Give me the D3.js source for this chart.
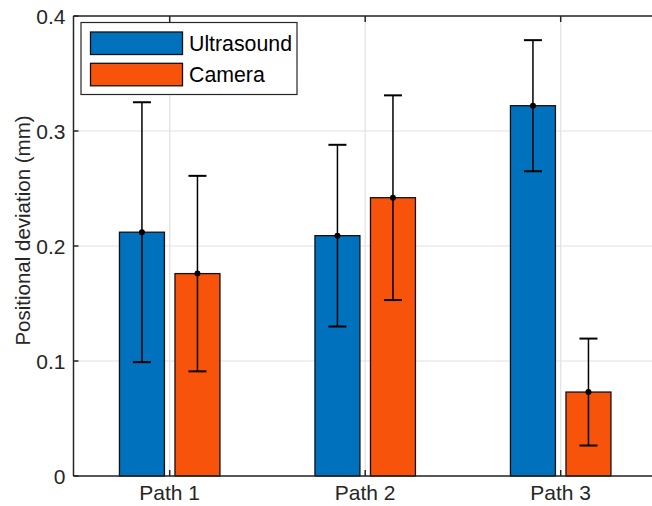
<!DOCTYPE html>
<html><head><meta charset="utf-8">
<script src="https://cdn.jsdelivr.net/npm/d3@7"></script>
<style>
body{margin:0;background:#fff;}
text{font-family:"Liberation Sans",Arial,Helvetica,sans-serif;}
</style></head>
<body><svg id="c" width="652" height="506"></svg>
<script>
const categories = ["Path 1", "Path 2", "Path 3"];
const seriesNames = ["Ultrasound", "Camera"];
const ultrasound = [0.212, 0.209, 0.322];
const ultrasoundErr = [0.113, 0.079, 0.057];
const camera = [0.176, 0.242, 0.073];
const cameraErr = [0.085, 0.089, 0.0465];
const yTicks = [0, 0.1, 0.2, 0.3, 0.4];
const yTickLabels = ["0", "0.1", "0.2", "0.3", "0.4"];
const colors = ["#0072BD", "#F8530B"];

const svg = d3.select("#c");
const L = 73.5, R = 656.3, T = 16, B = 476;
const x = d3.scalePoint().domain(categories).range([169.7, 560.7]);
const xs = d3.scaleBand().domain(seriesNames).range([-50.25, 50.25]).paddingInner(0.19);
const y = d3.scaleLinear().domain([0, 0.4]).range([B, T]);
const axisCol = "#262626";

// grid
const g = svg.append("g");
g.selectAll(".gx").data(categories).enter().append("line")
  .attr("x1", d => x(d)).attr("x2", d => x(d)).attr("y1", T).attr("y2", B)
  .attr("stroke", "#e2e2e2").attr("stroke-width", 1.2);
g.selectAll(".gy").data(yTicks).enter().append("line")
  .attr("x1", L).attr("x2", R).attr("y1", d => y(d)).attr("y2", d => y(d))
  .attr("stroke", "#e2e2e2").attr("stroke-width", 1.2);

// bars
const data = [];
categories.forEach((c, i) => {
  data.push({c, s: seriesNames[0], v: ultrasound[i], e: ultrasoundErr[i], col: colors[0]});
  data.push({c, s: seriesNames[1], v: camera[i], e: cameraErr[i], col: colors[1]});
});
svg.selectAll(".bar").data(data).enter().append("rect")
  .attr("x", d => x(d.c) + xs(d.s)).attr("width", xs.bandwidth())
  .attr("y", d => y(d.v)).attr("height", d => y(0) - y(d.v))
  .attr("fill", d => d.col).attr("stroke", "#111").attr("stroke-width", 1.3);

// error bars
const cx = d => x(d.c) + xs(d.s) + xs.bandwidth() / 2;
const eb = svg.append("g").attr("stroke", "#000").attr("stroke-width", 1.5);
eb.selectAll(".v").data(data).enter().append("line")
  .attr("x1", cx).attr("x2", cx).attr("y1", d => y(d.v + d.e)).attr("y2", d => y(d.v - d.e));
eb.selectAll(".ct").data(data).enter().append("line")
  .attr("x1", d => cx(d) - 9).attr("x2", d => cx(d) + 9).attr("y1", d => y(d.v + d.e)).attr("y2", d => y(d.v + d.e)).attr("stroke-width", 2);
eb.selectAll(".cb").data(data).enter().append("line")
  .attr("x1", d => cx(d) - 9).attr("x2", d => cx(d) + 9).attr("y1", d => y(d.v - d.e)).attr("y2", d => y(d.v - d.e)).attr("stroke-width", 2);
svg.selectAll(".dot").data(data).enter().append("circle")
  .attr("cx", cx).attr("cy", d => y(d.v)).attr("r", 3).attr("fill", "#000");

// axes
const ax = svg.append("g").attr("stroke", axisCol).attr("stroke-width", 1.5).attr("fill", "none");
ax.append("path").attr("d", `M${L},${B}H${R}M${L},${T}H${R}M${L},${T}V${B}`);
ax.selectAll(".tb").data(categories).enter().append("line")
  .attr("x1", d => x(d)).attr("x2", d => x(d)).attr("y1", B).attr("y2", B - 6);
ax.selectAll(".tt").data(categories).enter().append("line")
  .attr("x1", d => x(d)).attr("x2", d => x(d)).attr("y1", T).attr("y2", T + 6);
ax.selectAll(".ty").data(yTicks).enter().append("line")
  .attr("x1", L).attr("x2", L + 5).attr("y1", d => y(d)).attr("y2", d => y(d));

svg.selectAll(".xl").data(categories).enter().append("text")
  .attr("x", d => x(d)).attr("y", 500).attr("text-anchor", "middle")
  .attr("font-size", 21).attr("fill", axisCol).text(d => d);
svg.selectAll(".yl").data(yTicks).enter().append("text")
  .attr("x", L - 8).attr("y", d => y(d)).attr("dy", "0.36em").attr("text-anchor", "end")
  .attr("font-size", 21).attr("fill", axisCol).text((d, i) => yTickLabels[i]);
svg.append("text").attr("transform", "translate(29.5,230.5) rotate(-90)")
  .attr("text-anchor", "middle").attr("font-size", 20.5).attr("fill", axisCol)
  .text("Positional deviation (mm)");

// legend
const lg = svg.append("g");
lg.append("rect").attr("x", 81).attr("y", 22.5).attr("width", 216).attr("height", 72)
  .attr("fill", "#fff").attr("stroke", axisCol).attr("stroke-width", 1.2);
seriesNames.forEach((s, i) => {
  lg.append("rect").attr("x", 90.5).attr("y", 32 + i * 31.3).attr("width", 92).attr("height", 22.5)
    .attr("fill", colors[i]).attr("stroke", "#111").attr("stroke-width", 1.3);
  lg.append("text").attr("x", 189).attr("y", 43.3 + i * 31.3).attr("dy", "0.36em")
    .attr("font-size", 21.3).attr("fill", "#000").text(s);
});
</script></body></html>
